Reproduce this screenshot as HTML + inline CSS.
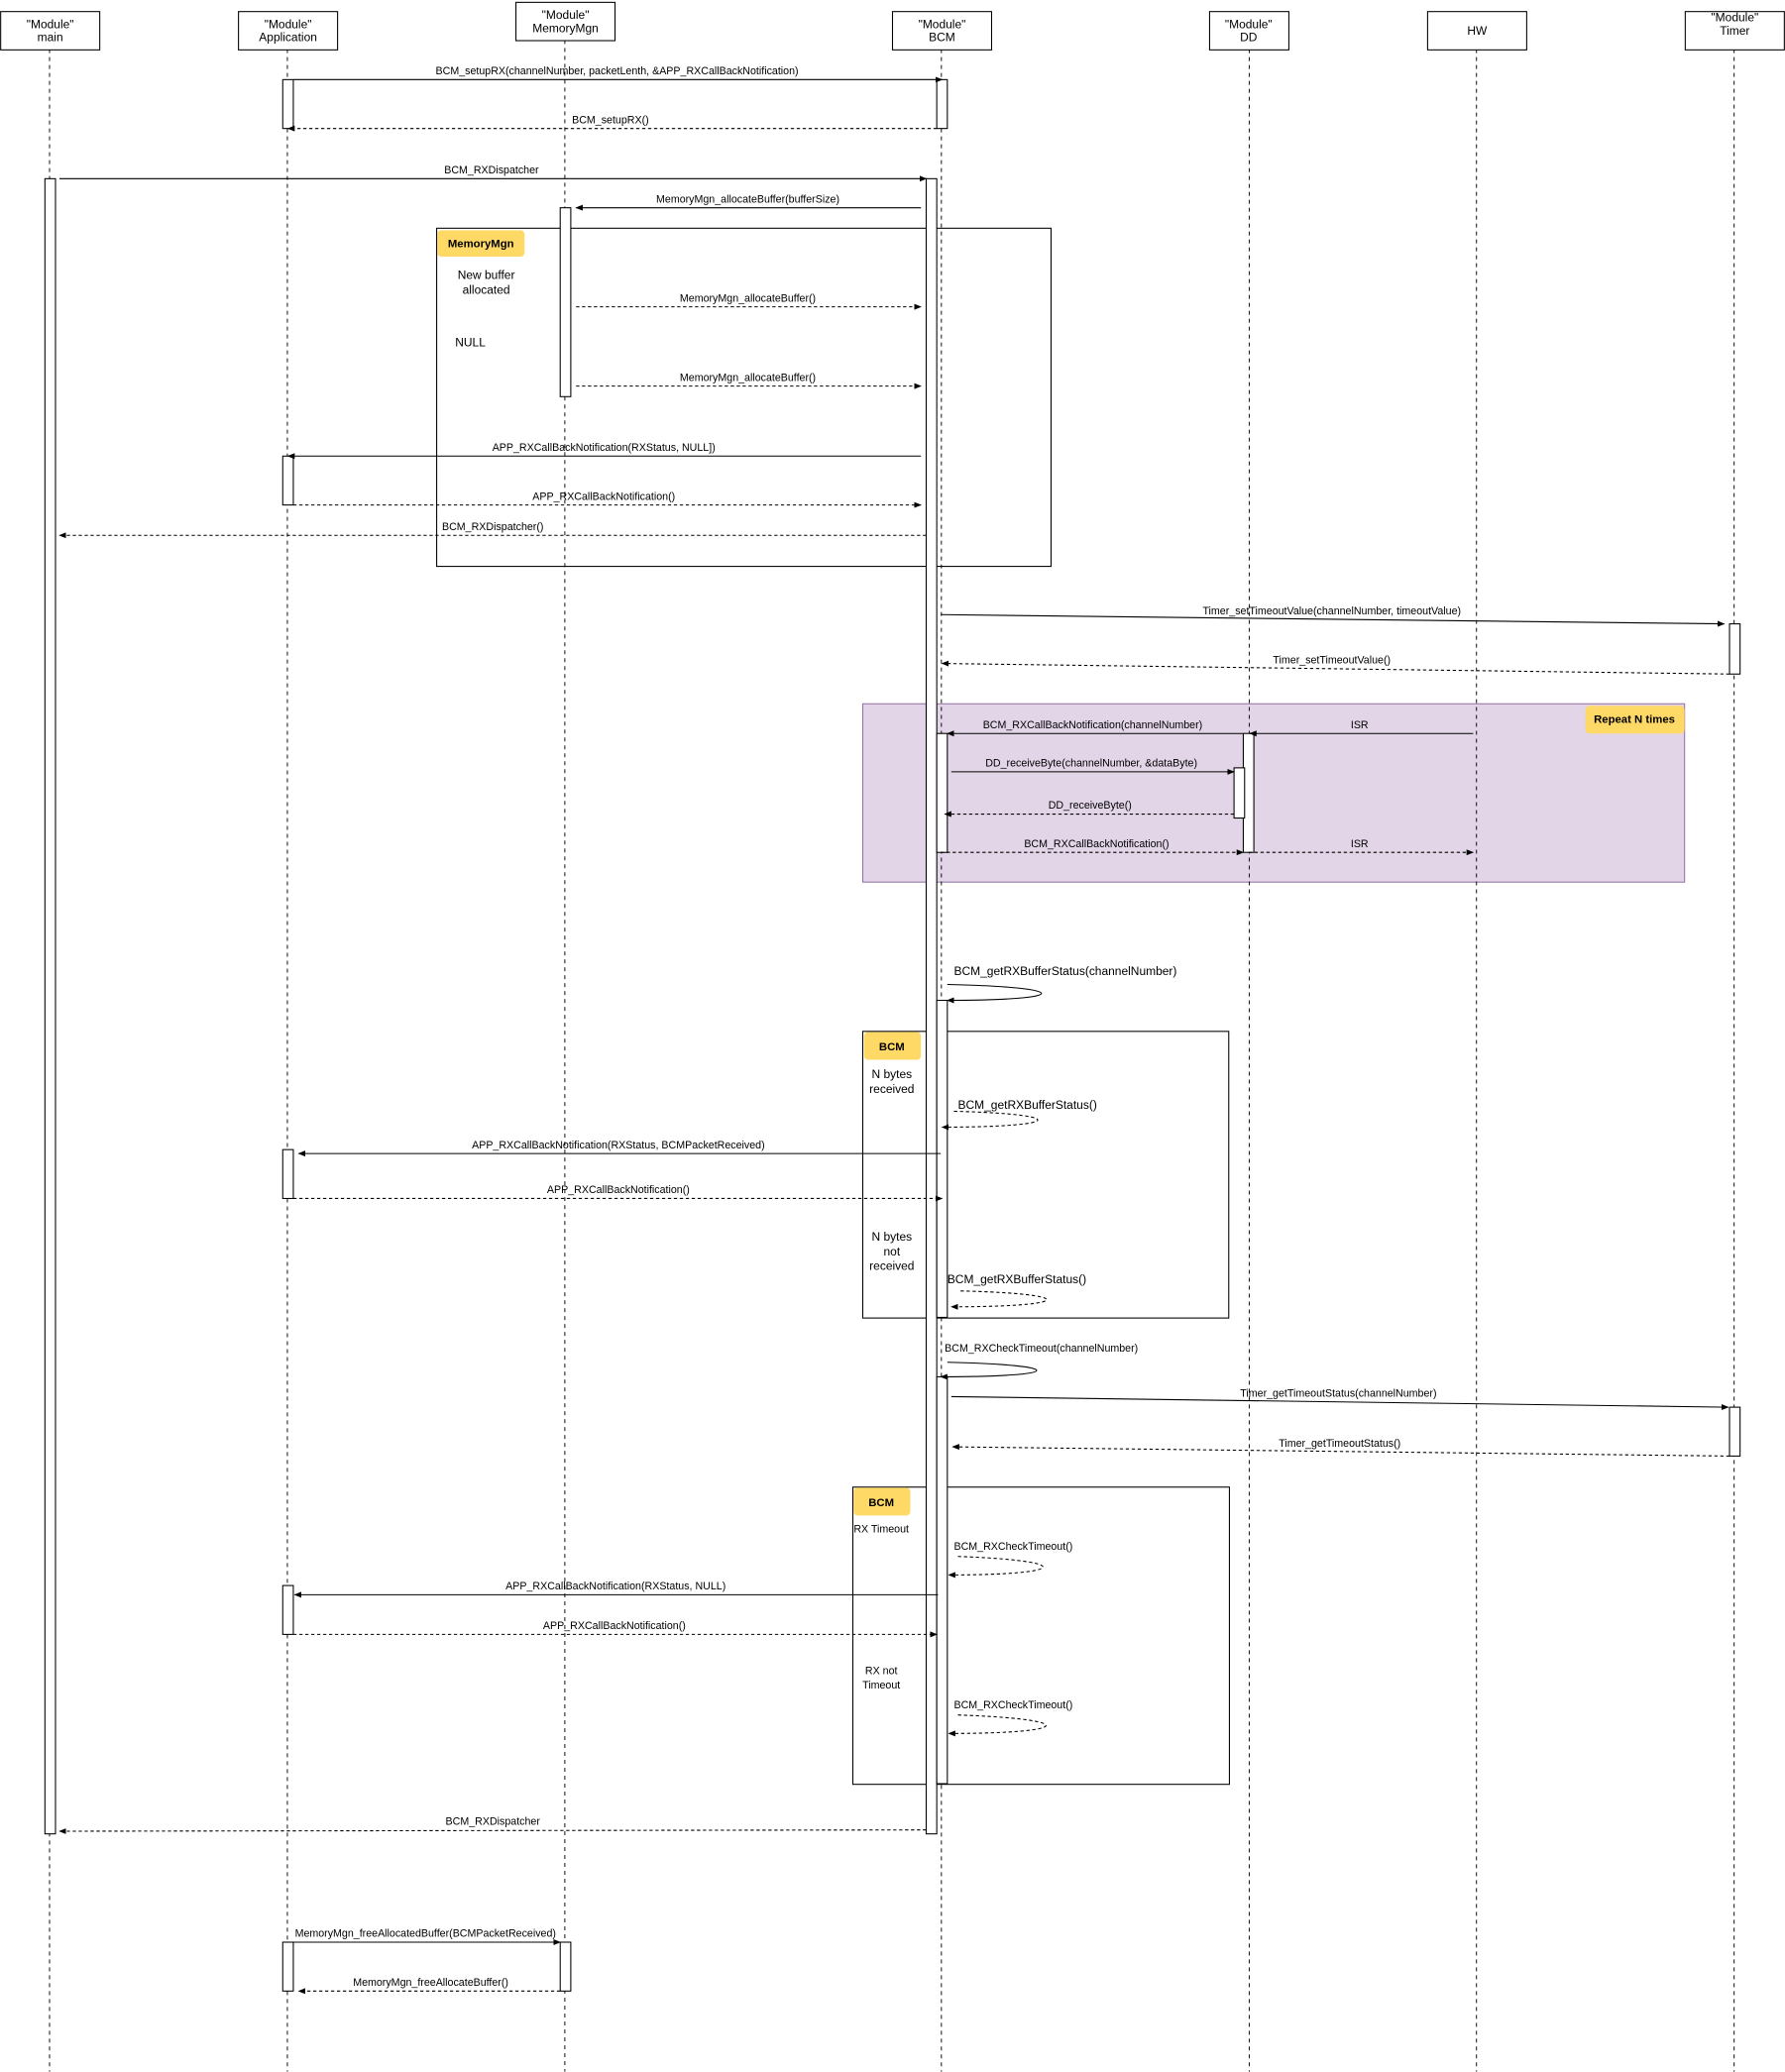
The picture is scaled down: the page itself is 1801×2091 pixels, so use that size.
<!DOCTYPE html>
<html><head><meta charset="utf-8"><style>
html,body{margin:0;padding:0;background:#fff;}
svg{display:block;}
text{font-family:"Liberation Sans",sans-serif;font-size:8px;fill:#000;}
.h{font-size:9px;}
.t{font-size:9px;}
.b{font-weight:bold;font-size:8.5px;}
</style></head><body>
<svg width="1801" height="2091" viewBox="0 0 1351 1568" xmlns="http://www.w3.org/2000/svg">
<defs>
<marker id="a" viewBox="0 0 10 10" refX="9" refY="5" markerWidth="7" markerHeight="7" orient="auto-start-reverse"><path d="M0,1 L10,5 L0,9 Z" fill="#000"/></marker>
</defs>
<rect width="1351" height="1568" fill="#fff"/>
<rect x="330.5" y="172.5" width="465" height="256" fill="none" stroke="#000" stroke-width="0.8"/>
<rect x="331" y="174" width="66" height="20" rx="3" fill="#ffd966"/>
<text x="364" y="187" class="b" text-anchor="middle">MemoryMgn</text>
<rect x="653" y="532.5" width="622" height="135" fill="#e1d5e7" stroke="#9673a6" stroke-width="0.8"/>
<rect x="1200" y="534" width="75" height="21" rx="3" fill="#ffd966"/>
<text x="1237" y="547" class="b" text-anchor="middle">Repeat N times</text>
<rect x="653" y="780.5" width="277" height="217" fill="none" stroke="#000" stroke-width="0.8"/>
<rect x="654" y="781" width="43" height="21" rx="3" fill="#ffd966"/>
<text x="675" y="795" class="b" text-anchor="middle">BCM</text>
<rect x="645.5" y="1125.5" width="285" height="225" fill="none" stroke="#000" stroke-width="0.8"/>
<rect x="646" y="1126" width="43" height="21" rx="3" fill="#ffd966"/>
<text x="667" y="1140" class="b" text-anchor="middle">BCM</text>
<g stroke="#000" stroke-width="0.7" stroke-dasharray="3,3">
<line x1="37.5" y1="37" x2="37.5" y2="1568"/>
<line x1="217.5" y1="37" x2="217.5" y2="1568"/>
<line x1="427.5" y1="30" x2="427.5" y2="1568"/>
<line x1="712.5" y1="37" x2="712.5" y2="1568"/>
<line x1="945.5" y1="37" x2="945.5" y2="1568"/>
<line x1="1117.5" y1="37" x2="1117.5" y2="1568"/>
<line x1="1312.5" y1="37" x2="1312.5" y2="1568"/>
</g>
<g fill="#fff" stroke="#000" stroke-width="0.8">
<rect x="0.5" y="8.5" width="75" height="29"/>
<rect x="180.5" y="8.5" width="75" height="29"/>
<rect x="390.5" y="1.5" width="75" height="29"/>
<rect x="675.5" y="8.5" width="75" height="29"/>
<rect x="915.5" y="8.5" width="60" height="29"/>
<rect x="1080.5" y="8.5" width="75" height="29"/>
<rect x="1275.5" y="8.5" width="75" height="29"/>
</g>
<g class="h" text-anchor="middle">
<text class="h" x="38" y="21">"Module"</text><text class="h" x="38" y="31">main</text>
<text class="h" x="218" y="21">"Module"</text><text class="h" x="218" y="31">Application</text>
<text class="h" x="428" y="14">"Module"</text><text class="h" x="428" y="24">MemoryMgn</text>
<text class="h" x="713" y="21">"Module"</text><text class="h" x="713" y="31">BCM</text>
<text class="h" x="945" y="21">"Module"</text><text class="h" x="945" y="31">DD</text>
<text class="h" x="1118" y="26">HW</text>
<text class="h" x="1313" y="16">"Module"</text><text class="h" x="1313" y="26">Timer</text>
</g>
<g fill="#fff" stroke="#000" stroke-width="0.8">
<rect x="214" y="60" width="8" height="37"/>
<rect x="709" y="60" width="8" height="37"/>
<rect x="34" y="135" width="8" height="1253"/>
<rect x="701" y="135" width="8" height="1253"/>
<rect x="424" y="157" width="8" height="143"/>
<rect x="214" y="345" width="8" height="37"/>
<rect x="1309" y="472" width="8" height="38"/>
<rect x="709" y="555" width="8" height="90"/>
<rect x="941" y="555" width="8" height="90"/>
<rect x="934" y="581" width="8" height="38"/>
<rect x="709" y="757" width="8" height="240"/>
<rect x="214" y="870" width="8" height="37"/>
<rect x="709" y="1042" width="8" height="308"/>
<rect x="1309" y="1065" width="8" height="37"/>
<rect x="214" y="1200" width="8" height="37"/>
<rect x="214" y="1470" width="8" height="37"/>
<rect x="424" y="1470" width="8" height="37"/>
</g>
<g stroke="#000" stroke-width="0.8" fill="none" marker-end="url(#a)">
<line x1="222" y1="60" x2="713" y2="60"/>
<line x1="45" y1="135" x2="701" y2="135"/>
<line x1="697" y1="157" x2="436" y2="157"/>
<line x1="697" y1="345" x2="218" y2="345"/>
<line x1="712" y1="465" x2="1305" y2="472"/>
<line x1="1115" y1="555" x2="946" y2="555"/>
<line x1="941" y1="555" x2="717" y2="555"/>
<line x1="720" y1="584" x2="934" y2="584"/>
<path d="M717,745 C812,747 812,757 717,757"/>
<line x1="712" y1="873" x2="226" y2="873"/>
<path d="M717,1031 C808,1033 808,1042 712,1042"/>
<line x1="720" y1="1057" x2="1308" y2="1065"/>
<line x1="710" y1="1207" x2="223" y2="1207"/>
<line x1="222" y1="1470" x2="424" y2="1470"/>
</g>
<g stroke="#000" stroke-width="0.8" fill="none" stroke-dasharray="2.5,2" marker-end="url(#a)">
<line x1="709" y1="97" x2="218" y2="97"/>
<line x1="436" y1="232" x2="697" y2="232"/>
<line x1="436" y1="292" x2="697" y2="292"/>
<line x1="222" y1="382" x2="697" y2="382"/>
<line x1="701" y1="405" x2="45" y2="405"/>
<line x1="1309" y1="510" x2="713" y2="502"/>
<line x1="934" y1="616" x2="715" y2="616"/>
<line x1="712" y1="645" x2="941" y2="645"/>
<line x1="945" y1="645" x2="1115" y2="645"/>
<path d="M722,841 C808,843 808,853 713,853"/>
<line x1="222" y1="907" x2="713" y2="907"/>
<path d="M727,977 C815,979 815,989 720,989"/>
<line x1="1309" y1="1102" x2="721" y2="1095"/>
<path d="M725,1178 C812,1181 812,1192 718,1192"/>
<line x1="222" y1="1237" x2="709" y2="1237"/>
<path d="M725,1298 C815,1301 815,1312 718,1312"/>
<line x1="701" y1="1385" x2="45" y2="1386"/>
<line x1="424" y1="1507" x2="226" y2="1507"/>
</g>
<g text-anchor="middle">
<text x="467" y="56">BCM_setupRX(channelNumber, packetLenth, &amp;APP_RXCallBackNotification)</text>
<text x="462" y="93">BCM_setupRX()</text>
<text x="372" y="131">BCM_RXDispatcher</text>
<text x="566" y="153">MemoryMgn_allocateBuffer(bufferSize)</text>
<text x="566" y="228">MemoryMgn_allocateBuffer()</text>
<text x="566" y="288">MemoryMgn_allocateBuffer()</text>
<text x="457" y="341">APP_RXCallBackNotification(RXStatus, NULL])</text>
<text x="457" y="378">APP_RXCallBackNotification()</text>
<text x="373" y="401">BCM_RXDispatcher()</text>
<text x="1008" y="465">Timer_setTimeoutValue(channelNumber, timeoutValue)</text>
<text x="1008" y="502">Timer_setTimeoutValue()</text>
<text x="1029" y="551">ISR</text>
<text x="827" y="551">BCM_RXCallBackNotification(channelNumber)</text>
<text x="826" y="580">DD_receiveByte(channelNumber, &amp;dataByte)</text>
<text x="825" y="612">DD_receiveByte()</text>
<text x="830" y="641">BCM_RXCallBackNotification()</text>
<text x="1029" y="641">ISR</text>
<text x="468" y="869">APP_RXCallBackNotification(RXStatus, BCMPacketReceived)</text>
<text x="468" y="903">APP_RXCallBackNotification()</text>
<text x="1013" y="1057">Timer_getTimeoutStatus(channelNumber)</text>
<text x="1014" y="1095">Timer_getTimeoutStatus()</text>
<text x="466" y="1203">APP_RXCallBackNotification(RXStatus, NULL)</text>
<text x="465" y="1233">APP_RXCallBackNotification()</text>
<text x="373" y="1381">BCM_RXDispatcher</text>
<text x="322" y="1466">MemoryMgn_freeAllocatedBuffer(BCMPacketReceived)</text>
<text x="326" y="1503">MemoryMgn_freeAllocateBuffer()</text>
<text class="h" x="368" y="211">New buffer</text><text class="h" x="368" y="222">allocated</text>
<text class="h" x="356" y="262">NULL</text>
<text class="h" x="675" y="816">N bytes</text><text class="h" x="675" y="827">received</text>
<text class="h" x="675" y="939">N bytes</text><text class="h" x="675" y="950">not</text><text class="h" x="675" y="961">received</text>
<text x="667" y="1160">RX Timeout</text>
<text x="667" y="1267">RX not</text><text x="667" y="1278">Timeout</text>
</g>
<text class="t" x="722" y="738">BCM_getRXBufferStatus(channelNumber)</text>
<text class="t" x="725" y="839">BCM_getRXBufferStatus()</text>
<text class="t" x="717" y="971">BCM_getRXBufferStatus()</text>
<text x="715" y="1023">BCM_RXCheckTimeout(channelNumber)</text>
<text x="722" y="1173">BCM_RXCheckTimeout()</text>
<text x="722" y="1293">BCM_RXCheckTimeout()</text>
</svg>
</body></html>
